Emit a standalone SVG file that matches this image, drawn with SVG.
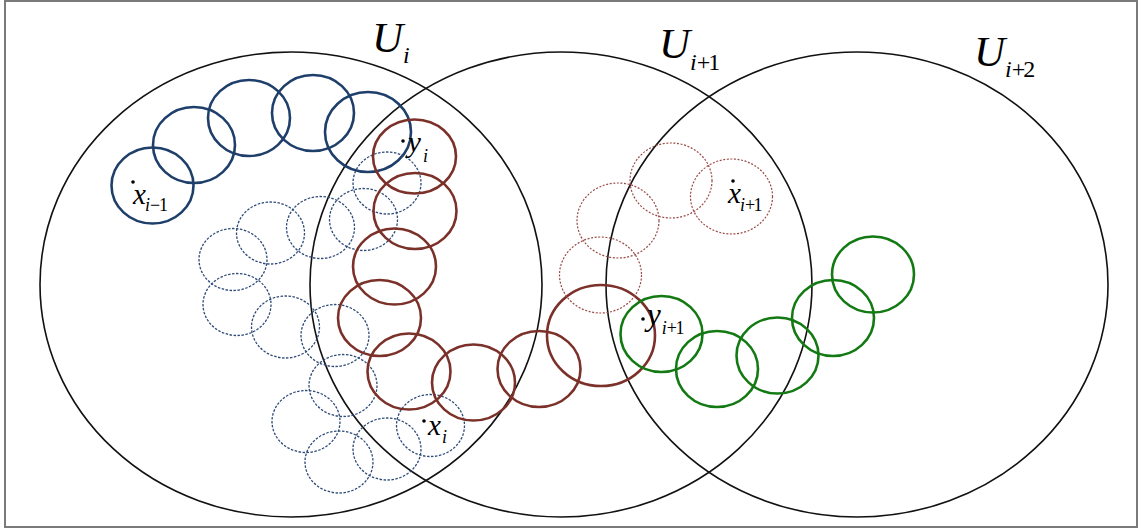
<svg xmlns="http://www.w3.org/2000/svg" width="1141" height="528" viewBox="0 0 1141 528">
<style>
.frame{fill:#fff;stroke:#7a7a7a;stroke-width:2}
.big{fill:none;stroke:#111;stroke-width:1.6}
.bs{fill:none;stroke:#1f3f6b;stroke-width:2.6}
.bd{fill:none;stroke:#2d4a78;stroke-width:1.3;stroke-dasharray:2.5 1.5}
.rs{fill:none;stroke:#7b3129;stroke-width:2.6}
.rd{fill:none;stroke:#9a4a46;stroke-width:1.2;stroke-dasharray:2 1.6}
.gs{fill:none;stroke:#137a13;stroke-width:2.6}
.lab{font-family:"Liberation Serif",serif;font-style:italic;fill:#000}
.up{font-style:normal}
.dot{fill:#000}
</style>
<rect class="frame" x="5" y="1" width="1132" height="526"/>
<g id="sets">
<g id="U_i"><ellipse class="big" cx="291" cy="284.5" rx="251" ry="232.5"/>
<text class="lab" x="372" y="52" font-size="43">U<tspan font-size="24" dy="11">i</tspan></text></g>
<g id="U_i1"><ellipse class="big" cx="561" cy="284.5" rx="251" ry="232.5"/>
<text class="lab" x="659" y="58" font-size="43">U<tspan font-size="24" dy="12">i</tspan><tspan class="up" font-size="24" letter-spacing="-2">+1</tspan></text></g>
<g id="U_i2"><ellipse class="big" cx="857" cy="284.5" rx="251" ry="232.5"/>
<text class="lab" x="974" y="66" font-size="43">U<tspan font-size="24" dy="11">i</tspan><tspan class="up" font-size="24" letter-spacing="-2">+2</tspan></text></g>
</g>
<g id="blue-solid">
<ellipse class="bs" cx="152.5" cy="185.5" rx="41" ry="38"/>
<ellipse class="bs" cx="194" cy="145" rx="41" ry="38"/>
<ellipse class="bs" cx="249" cy="118" rx="41" ry="38"/>
<ellipse class="bs" cx="313" cy="113" rx="41" ry="38"/>
<ellipse class="bs" cx="368" cy="132" rx="43" ry="40"/>
</g>
<g id="blue-dashed">
<ellipse class="bd" cx="387" cy="183" rx="34" ry="31"/>
<ellipse class="bd" cx="363.5" cy="219.5" rx="34" ry="31"/>
<ellipse class="bd" cx="320.5" cy="227.5" rx="34" ry="31"/>
<ellipse class="bd" cx="270.5" cy="233" rx="34" ry="31"/>
<ellipse class="bd" cx="233" cy="259.5" rx="34" ry="31"/>
<ellipse class="bd" cx="237" cy="304.5" rx="34" ry="31"/>
<ellipse class="bd" cx="285.5" cy="327" rx="34" ry="31"/>
<ellipse class="bd" cx="335" cy="335.5" rx="34" ry="31"/>
<ellipse class="bd" cx="343" cy="385.5" rx="34" ry="31"/>
<ellipse class="bd" cx="306" cy="421.5" rx="34" ry="31"/>
<ellipse class="bd" cx="339" cy="462" rx="34" ry="31"/>
<ellipse class="bd" cx="387" cy="449" rx="34" ry="31"/>
<ellipse class="bd" cx="430.5" cy="425.5" rx="34" ry="31"/>
</g>
<g id="red-solid">
<ellipse class="rs" cx="414.5" cy="156.5" rx="41.5" ry="37"/>
<ellipse class="rs" cx="415" cy="211" rx="41.5" ry="38"/>
<ellipse class="rs" cx="394.5" cy="266.5" rx="41.5" ry="38"/>
<ellipse class="rs" cx="379.5" cy="318" rx="41.5" ry="38"/>
<ellipse class="rs" cx="409" cy="371.5" rx="41.5" ry="38"/>
<ellipse class="rs" cx="473.5" cy="382.5" rx="41.5" ry="38"/>
<ellipse class="rs" cx="539" cy="369" rx="41.5" ry="38"/>
<ellipse class="rs" cx="601" cy="335.5" rx="54" ry="50.5"/>
</g>
<g id="red-dashed">
<ellipse class="rd" cx="671" cy="180.5" rx="41" ry="37.5"/>
<ellipse class="rd" cx="731.5" cy="196.5" rx="41" ry="37.5"/>
<ellipse class="rd" cx="618" cy="220.5" rx="41" ry="37.5"/>
<ellipse class="rd" cx="600.5" cy="275" rx="41" ry="38"/>
</g>
<g id="green-solid">
<ellipse class="gs" cx="661.5" cy="334" rx="41" ry="38"/>
<ellipse class="gs" cx="717" cy="369" rx="41" ry="38"/>
<ellipse class="gs" cx="777.5" cy="355.5" rx="41" ry="38"/>
<ellipse class="gs" cx="833" cy="318" rx="41" ry="38"/>
<ellipse class="gs" cx="873" cy="274.5" rx="41" ry="38"/>
</g>
<g id="points">
<g id="p-x_im1"><circle class="dot" cx="133" cy="182" r="1.8"/>
<text class="lab" x="133" y="204" font-size="29">x<tspan font-size="18" dy="7" dx="-1">i</tspan><tspan class="up" font-size="18" letter-spacing="-1">−1</tspan></text></g>
<g id="p-y_i"><circle class="dot" cx="403" cy="141" r="1.8"/>
<text class="lab" x="408" y="152" font-size="29">y<tspan font-size="18" dy="10" dx="2">i</tspan></text></g>
<g id="p-x_i"><circle class="dot" cx="424" cy="421" r="1.8"/>
<text class="lab" x="428" y="435" font-size="29">x<tspan font-size="18" dy="8" dx="1">i</tspan></text></g>
<g id="p-x_i1"><circle class="dot" cx="733" cy="181" r="1.8"/>
<text class="lab" x="728" y="203" font-size="29">x<tspan font-size="18" dy="8" dx="-1">i</tspan><tspan class="up" font-size="18" letter-spacing="-1.5">+1</tspan></text></g>
<g id="p-y_i1"><circle class="dot" cx="643" cy="319" r="1.8"/>
<text class="lab" x="647" y="325" font-size="31">y<tspan font-size="18" dy="9" dx="1">i</tspan><tspan class="up" font-size="18" letter-spacing="-1.5">+1</tspan></text></g>
</g>
</svg>
